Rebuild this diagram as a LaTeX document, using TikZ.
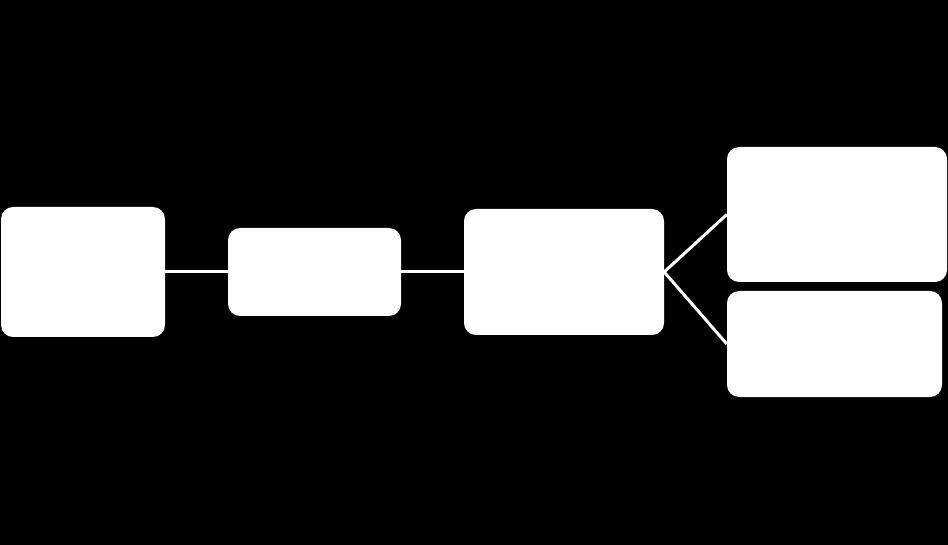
\documentclass[tikz,border=0pt]{standalone}
\usetikzlibrary{positioning,calc}

\begin{document}
\begin{tikzpicture}[x=1pt,y=-1pt,
			blk/.style={rectangle,rounded corners=12pt,fill=white,draw=none, inner sep=0pt},
			lnk/.style={white,line width=3pt}]
		\fill[black] (0,0) rectangle (948,545);
		\useasboundingbox (0,0) rectangle (948,545);
		\path 	(83,272) 	node 	(src) [blk, minimum width=164pt, minimum height=130pt] {}
		        (314.5,272) node 	(mid) [blk, minimum width=173pt, minimum height=88pt] {}
		        (564,272) node  	(hub) [blk, minimum width=200pt, minimum height=126pt] {}
		        (837,214.5) node  	(top) [blk, minimum width=220pt, minimum height=135pt] {}
		        (834.5,344) node  	(bot) [blk, minimum width=215pt, minimum height=106pt] {};
		\draw [lnk] (src) -- (mid) -- (hub);
		\draw [lnk] (hub.east) -- (top.west);
		\draw [lnk] (hub.east) -- (bot.west);
	\end{tikzpicture}
\end{document}
